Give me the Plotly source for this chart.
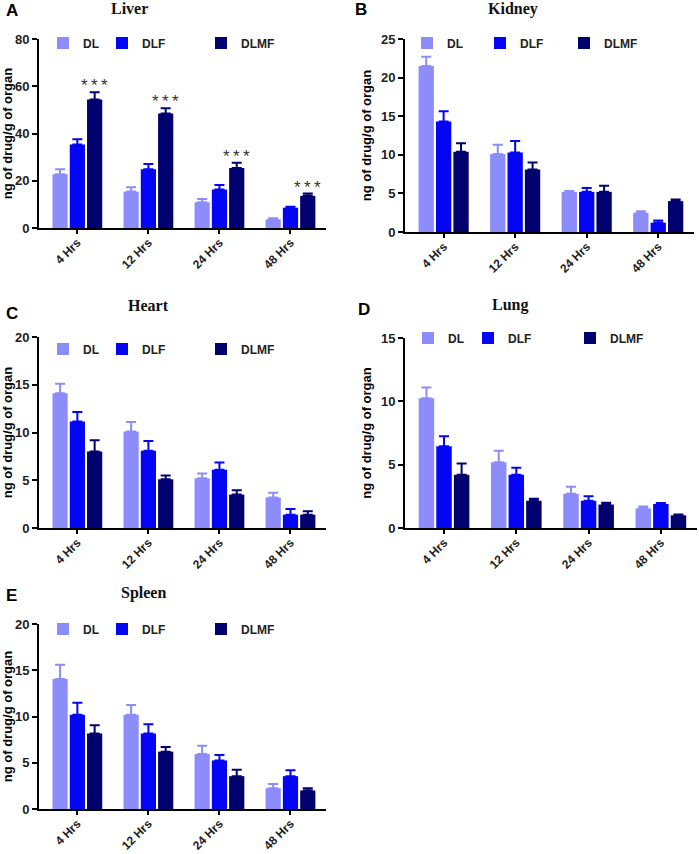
import plotly.graph_objects as go

# %%
# sampling times and formulations
times = ["4 Hrs", "12 Hrs", "24 Hrs", "48 Hrs"]
groups = ["DL", "DLF", "DLMF"]
colors = ["#8C8CFA", "#0505F5", "#00006E"]

# mean and SD (upper error only), ng of drug / g of organ
liver_dl = [22.8, 15.4, 10.9, 3.7]
liver_dl_err = [2.1, 1.8, 1.4, 0.4]
liver_dlf = [35.3, 24.9, 16.3, 8.6]
liver_dlf_err = [2.3, 2.2, 1.9, 0.4]
liver_dlmf = [54.4, 48.5, 25.4, 13.6]
liver_dlmf_err = [3.1, 2.2, 2.2, 1.0]

kidney_dl = [21.5, 10.1, 5.2, 2.5]
kidney_dl_err = [1.2, 1.2, 0.1, 0.2]
kidney_dlf = [14.3, 10.3, 5.2, 1.2]
kidney_dlf_err = [1.35, 1.5, 0.5, 0.3]
kidney_dlmf = [10.4, 8.1, 5.2, 4.0]
kidney_dlmf_err = [1.1, 0.9, 0.8, 0.2]

heart_dl = [14.1, 10.1, 5.2, 3.2]
heart_dl_err = [1.0, 1.0, 0.5, 0.5]
heart_dlf = [11.15, 8.1, 6.1, 1.4]
heart_dlf_err = [1.0, 1.0, 0.75, 0.6]
heart_dlmf = [8.0, 5.1, 3.5, 1.4]
heart_dlmf_err = [1.2, 0.4, 0.45, 0.35]

lung_dl = [10.25, 5.2, 2.7, 1.55]
lung_dl_err = [0.85, 0.9, 0.55, 0.15]
lung_dlf = [6.45, 4.2, 2.15, 1.9]
lung_dlf_err = [0.8, 0.55, 0.35, 0.08]
lung_dlmf = [4.2, 2.15, 1.85, 1.0]
lung_dlmf_err = [0.9, 0.15, 0.15, 0.06]

spleen_dl = [14.05, 10.2, 5.95, 2.25]
spleen_dl_err = [1.55, 1.05, 0.9, 0.45]
spleen_dlf = [10.2, 8.15, 5.25, 3.55]
spleen_dlf_err = [1.3, 1.0, 0.6, 0.65]
spleen_dlmf = [8.15, 6.2, 3.55, 2.0]
spleen_dlmf_err = [0.9, 0.5, 0.7, 0.25]

liver_stars = ["*\u2009*\u2009*"] * 4

# %%
W, H = 699, 854
def px(x):
    return x / W
def py(y):
    return 1 - y / H

# box = (left, right, top, bottom) of the axes in px
# leg = swatch centres (DL, DLF, DLMF) and legend row centre in px
panels = [
    dict(letter="A", title="Liver", ymax=80, dtick=20,
         data=[(liver_dl, liver_dl_err), (liver_dlf, liver_dlf_err), (liver_dlmf, liver_dlmf_err)],
         box=(39, 326, 39, 228), lpos=(4, 10), tpos=(129, 8), leg=(63, 122, 221, 43)),
    dict(letter="B", title="Kidney", ymax=25, dtick=5,
         data=[(kidney_dl, kidney_dl_err), (kidney_dlf, kidney_dlf_err), (kidney_dlmf, kidney_dlmf_err)],
         box=(405, 694, 39, 232), lpos=(353, 9), tpos=(513, 9), leg=(427, 500, 584, 43)),
    dict(letter="C", title="Heart", ymax=20, dtick=5,
         data=[(heart_dl, heart_dl_err), (heart_dlf, heart_dlf_err), (heart_dlmf, heart_dlmf_err)],
         box=(39, 326, 337, 528), lpos=(4, 313), tpos=(148, 306), leg=(63, 122, 221, 349)),
    dict(letter="D", title="Lung", ymax=15, dtick=5,
         data=[(lung_dl, lung_dl_err), (lung_dlf, lung_dlf_err), (lung_dlmf, lung_dlmf_err)],
         box=(405, 697, 338, 528), lpos=(356, 310), tpos=(510, 305), leg=(428, 488, 590, 338)),
    dict(letter="E", title="Spleen", ymax=20, dtick=5,
         data=[(spleen_dl, spleen_dl_err), (spleen_dlf, spleen_dlf_err), (spleen_dlmf, spleen_dlmf_err)],
         box=(39, 326, 624, 809), lpos=(4, 595), tpos=(143, 593), leg=(63, 122, 221, 629)),
]

fig = go.Figure()
annotations = []
bold = dict(family="Arial, Liberation Sans", color="#222222", weight="bold")

k = 0
for i, p in enumerate(panels):
    n = "" if i == 0 else str(i + 1)
    for j, ((vals, errs), name, col) in enumerate(zip(p["data"], groups, colors)):
        k += 1
        leg = "legend" if k == 1 else "legend" + str(k)
        fig.add_bar(
            x=times, y=vals, name=name, legend=leg,
            xaxis="x" + n, yaxis="y" + n,
            marker=dict(color=col, line=dict(width=0)),
            error_y=dict(type="data", array=errs, arrayminus=[0] * len(errs),
                         symmetric=False, color=col, thickness=2, width=5),
        )
        fig.layout[leg] = dict(
            x=px(p["leg"][j] - 20), y=py(p["leg"][3]), xanchor="left", yanchor="middle",
            bgcolor="rgba(0,0,0,0)", font=dict(size=12, **bold), itemclick=False,
        )
    l, r, t, b = p["box"]
    # automargin off: the template turns it on and it would shrink the plot area
    fig.layout["xaxis" + n] = dict(
        domain=[px(l), px(r)], anchor="y" + n, type="category", automargin=False,
        range=[-0.54, 3.5], showline=True, linecolor="black", linewidth=2,
        ticks="outside", ticklen=4, tickwidth=2, tickcolor="black",
        tickangle=-45, tickfont=dict(size=12, **bold), ticklabelstandoff=-3,
        showgrid=False, zeroline=False,
    )
    fig.layout["yaxis" + n] = dict(
        domain=[py(b), py(t)], anchor="x" + n, automargin=False,
        range=[0, p["ymax"]], dtick=p["dtick"], showline=True, linecolor="black", linewidth=2,
        ticks="outside", ticklen=5, tickwidth=2, tickcolor="black",
        tickfont=dict(size=13, **bold),
        title=dict(text="ng of drug/g of organ", standoff=6,
                   font=dict(family="Arial, Liberation Sans", size=13, color="black", weight="bold")),
        showgrid=False, zeroline=False,
    )
    annotations.append(dict(text=p["letter"], xref="paper", yref="paper",
                            x=px(p["lpos"][0]), y=py(p["lpos"][1]), xanchor="left", yanchor="middle",
                            showarrow=False, font=dict(family="Arial, Liberation Sans", size=17,
                                                       color="black", weight="bold")))
    annotations.append(dict(text=p["title"], xref="paper", yref="paper",
                            x=px(p["tpos"][0]), y=py(p["tpos"][1]), xanchor="center", yanchor="middle",
                            showarrow=False, font=dict(family="Times New Roman, Liberation Serif", size=16,
                                                       color="#111111", weight="bold")))

# significance stars over DLMF bars in the liver panel
for t, v, e, s in zip(times, liver_dlmf, liver_dlmf_err, liver_stars):
    annotations.append(dict(text=s, x=t, y=v + e, xref="x", yref="y", xshift=17, yshift=-5,
                            yanchor="bottom", showarrow=False,
                            font=dict(family="Arial, Liberation Sans", size=17, color="#333333")))

fig.update_layout(
    width=W, height=H, margin=dict(l=0, r=0, t=0, b=0, autoexpand=False),
    paper_bgcolor="white", plot_bgcolor="white",
    barmode="group", bargap=0.27, bargroupgap=0.12,
    annotations=annotations, showlegend=True,
)

# drop the default page margin so the figure sits at the window's corner
fig.write_html("out.html", config={"displayModeBar": False},
               post_script="document.body.style.margin='0';")
